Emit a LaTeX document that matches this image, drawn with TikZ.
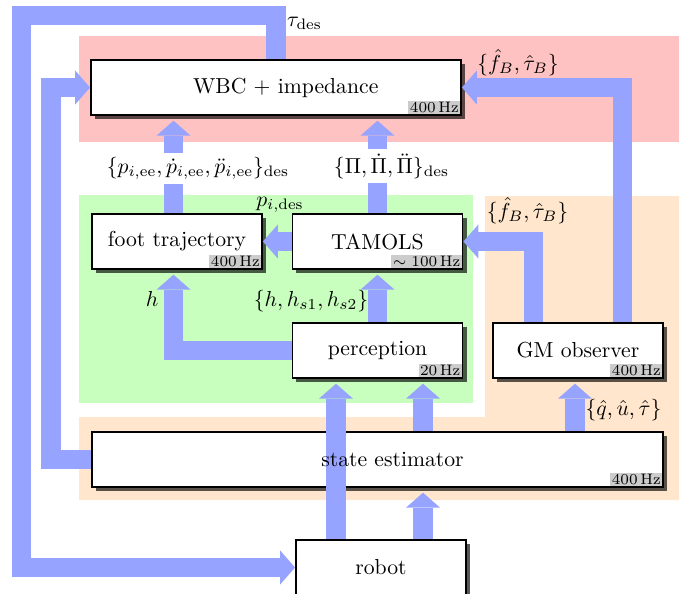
\documentclass[tikz,border=0pt]{standalone}
\usepackage{amsmath, amssymb}
\usepackage{tikz}
\usepackage{xcolor}
\usetikzlibrary{arrows.meta, shadows, calc}

\definecolor{flowblue}{RGB}{150,164,255}
\definecolor{wbcbg}{RGB}{255,194,194}
\definecolor{planbg}{RGB}{200,255,190}
\definecolor{estbg}{RGB}{255,230,204}

\tikzset{
    block/.style={draw, thick, fill=white, minimum width=78.4pt, minimum height=25.4pt,
        drop shadow={shadow xshift=1.85pt, shadow yshift=-1.85pt, fill=black, opacity=0.65}},
    rate/.style={fill=black!20, font=\scriptsize, inner sep=0.7pt, anchor=south east},
    flow/.style={draw=flowblue, line width=8.8pt, line join=miter,
        -{Triangle[width=15.7pt, length=6.9pt, line width=0pt]}},
    sig/.style={anchor=base, inner sep=2pt}
}

\begin{document}
\begin{tikzpicture}[x=0.461pt, y=-0.461pt]
    \useasboundingbox (0,0) rectangle (693,594);

    % Coloured groups behind the blocks
    \fill[wbcbg] (79,36) rectangle (679,141.5);
    \fill[planbg] (79,195) rectangle (473,402.5);
    \fill[estbg] (485,196) -- (679,196) -- (679,500) -- (79,500) -- (79,417) -- (485,417) -- cycle;

    % The blocks
    \node[block, minimum width=170.6pt] (wbc) at (276,87.5) {\hspace*{9pt}WBC + impedance};
    \node[block] (foot) at (177,241.5) {foot trajectory};
    \node[block] (tamols) at (377.5,241.5) {TAMOLS};
    \node[block] (perc) at (377.5,350.5) {perception};
    \node[block] (gm) at (578,350.5) {GM observer};
    \node[block, minimum width=263.2pt] (est) at (377.5,459.5) {};
    \node[block] (robot) at (381,567.5) {robot};

    % Update rates
    \node[rate] (wbc-rate) at ([shift={(-0.5pt,0.5pt)}]wbc.south east) {400\,Hz};
    \node[rate] (foot-rate) at ([shift={(-0.5pt,0.5pt)}]foot.south east) {400\,Hz};
    \node[rate] (tamols-rate) at ([shift={(-0.5pt,0.5pt)}]tamols.south east) {$\sim 100$\,Hz};
    \node[rate] (perc-rate) at ([shift={(-0.5pt,0.5pt)}]perc.south east) {20\,Hz};
    \node[rate] (gm-rate) at ([shift={(-0.5pt,0.5pt)}]gm.south east) {400\,Hz};
    \node[rate] (est-rate) at ([shift={(-0.5pt,0.5pt)}]est.south east) {400\,Hz};

    % Corners of the feedback loops
    \coordinate (outer) at (21.5,15.5);
    \coordinate (inner) at (51,87.5);
    \coordinate (gmr) at ($(gm.north)+(44.5,0)$);
    \coordinate (gml) at ($(gm.north)+(-44.5,0)$);
    \coordinate (gmin) at ($(gm.south)+(-3,0)$);
    \coordinate (ftop) at ($(foot.north)+(-3.5,0)$);
    \coordinate (fbot) at ($(foot.south)+(-3.5,0)$);
    \coordinate (rl) at ($(robot.north)+(-45,0)$);
    \coordinate (rr) at ($(robot.north)+(42,0)$);

    % Signal flow
    \draw[flow] (wbc.north) |- (outer) |- (robot.west);
    \draw[flow] (est.west) -| (inner) -- (wbc.west);
    \draw[flow] (gmr) |- (wbc.east);
    \draw[flow] (gml) |- (tamols.east);
    \draw[flow] (tamols.west) -- (foot.east);
    \draw[flow, shorten >=2.2pt] (ftop) -- (ftop |- wbc.south);
    \draw[flow, shorten >=2.2pt] (tamols.north) -- (tamols.north |- wbc.south);
    \draw[flow, shorten >=2.2pt] (perc.west) -| (fbot);
    \draw[flow, shorten >=2.2pt] (perc.north) -- (tamols.south);
    \draw[flow, shorten >=2.2pt] (rr |- est.north) -- (rr |- perc.south);
    \draw[flow, shorten >=2.2pt] (rr) -- (rr |- est.south);
    \draw[flow, shorten >=2.2pt] (gmin |- est.north) -- (gmin);
    \draw[flow, shorten >=2.2pt] (rl) -- (rl |- perc.south);

    % Estimator text goes over the measurement line
    \node (est-text) at ($(est)+(15,0)$) {state estimator};

    % Signal labels
    \node[sig] (tau-des) at (304.5,26.5) {$\tau_{\mathrm{des}}$};
    \node[sig] (wrench-wbc) at (518,70) {$\{\hat{f}_B,\hat{\tau}_B\}$};
    \node[sig] (wrench-tamols) at (527.5,218) {$\{\hat{f}_B,\hat{\tau}_B\}$};
    \node[sig] (p-des) at (280,206) {$p_{i,\mathrm{des}}$};
    \node[sig, fill=white] (foot-ref) at (198,173.5) {$\{p_{i,\mathrm{ee}},\dot{p}_{i,\mathrm{ee}},\ddot{p}_{i,\mathrm{ee}}\}_{\mathrm{des}}$};
    \node[sig, fill=white] (base-ref) at (391.5,173.5) {$\{\Pi,\dot{\Pi},\ddot{\Pi}\}_{\mathrm{des}}$};
    \node[sig] (h-foot) at (152,306.7) {$h$};
    \node[sig] (h-tamols) at (311,306.7) {$\{h,h_{s1},h_{s2}\}$};
    \node[sig] (state-gm) at (623.5,415) {$\{\hat{q},\hat{u},\hat{\tau}\}$};
\end{tikzpicture}
\end{document}
